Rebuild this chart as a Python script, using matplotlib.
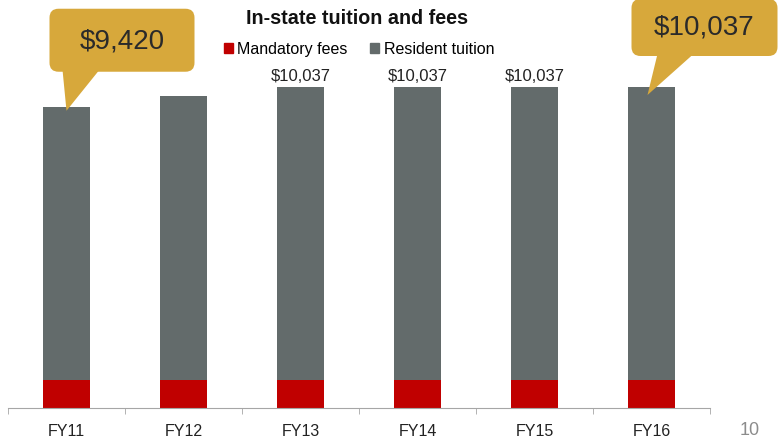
import matplotlib.pyplot as plt
from matplotlib.patches import FancyBboxPatch, Polygon, Patch

# In-state tuition and fees by fiscal year
years = ["FY11", "FY12", "FY13", "FY14", "FY15", "FY16"]
totals = [9420, 9750, 10037, 10037, 10037, 10037]
mandatory_fees = [876, 876, 876, 876, 876, 876]
resident_tuition = [t - f for t, f in zip(totals, mandatory_fees)]
labelled = [2, 3, 4]          # bars with a plain value label
callouts = [0, 5]             # bars with a highlighted callout

plt.rcParams["font.family"] = ["Liberation Sans", "DejaVu Sans"]

RED = "#C00000"
GRAY = "#636B6B"
GOLD = "#D7A83B"

fig = plt.figure(figsize=(7.79, 4.39), dpi=100)
ax = fig.add_axes([8 / 779, 1 - 409 / 439, 702 / 779, 409 / 439])
ymax = 409 * 10037 / 321
ax.set_xlim(-0.5, 5.5)
ax.set_ylim(0, ymax)

x = range(len(years))
ax.bar(x, mandatory_fees, width=0.40, color=RED, label="Mandatory fees")
ax.bar(x, resident_tuition, width=0.40, bottom=mandatory_fees, color=GRAY,
       label="Resident tuition")

for i in labelled:
    ax.text(i, totals[i] + 130, f"${totals[i]:,}", ha="center", va="bottom",
            fontsize=12, color="#222222")

# axis styling: only a thin baseline with category separators
for side in ["left", "right", "top"]:
    ax.spines[side].set_visible(False)
ax.spines["bottom"].set_color("#A6A6A6")
ax.set_yticks([])
ax.set_xticks(list(x))
ax.set_xticklabels(years, fontsize=11.5, color="#222222")
ax.tick_params(axis="x", which="major", length=0, pad=11)
ax.set_xticks([i - 0.5 for i in range(len(years) + 1)], minor=True)
ax.tick_params(axis="x", which="minor", length=4, color="#A6A6A6", direction="out")

# callout bubbles (offsets in pixels from the bar top, converted to data units)
px_x = 1 / 117
px_y = 10037 / 321
aspect = px_y / px_x


def callout(i, left, right, top, bottom, base_l, base_r, tip_dx, tip_dy, text_dy):
    x0 = i + left * px_x
    x1 = i + right * px_x
    y_top = totals[i] + top * px_y
    y_bot = totals[i] + bottom * px_y
    box = FancyBboxPatch((x0, y_bot), x1 - x0, y_top - y_bot,
                         boxstyle=f"round,pad=0,rounding_size={9 * px_x}",
                         mutation_aspect=aspect, fc=GOLD, ec="none",
                         clip_on=False, zorder=5)
    ax.add_patch(box)
    tip = (i + tip_dx * px_x, totals[i] - tip_dy * px_y)
    ptr = Polygon([(i + base_l * px_x, y_bot + 2 * px_y),
                   (i + base_r * px_x, y_bot + 2 * px_y), tip],
                  closed=True, fc=GOLD, ec="none", clip_on=False, zorder=5)
    ax.add_patch(ptr)
    ax.text((x0 + x1) / 2, (y_top + y_bot) / 2 + text_dy * px_y, f"${totals[i]:,}",
            ha="center", va="center", fontsize=20, color="#2a2a2a", zorder=6)


callout(callouts[0], -17, 128, 98, 35, -4, 33, 0, 4, 0)
callout(callouts[1], -20, 126, 88, 31, 6, 42, -4, 8, 1)

handles = [Patch(color=RED, label="Mandatory fees"),
           Patch(color=GRAY, label="Resident tuition")]
ax.legend(handles=handles, loc="center", bbox_to_anchor=(0.5, 0.878), ncol=2,
          frameon=False, fontsize=11.5, handlelength=0.55, handleheight=0.55,
          handletextpad=0.3, columnspacing=1.4)

fig.text(357 / 779, 1 - 18 / 439, "In-state tuition and fees", ha="center",
         va="center", fontsize=14.2, fontweight="bold", color="#111111")
fig.text(750 / 779, 1 - 431 / 439, "10", ha="center", va="center",
         fontsize=13, color="#8C8C8C")

fig.savefig("out.png", dpi=100)
